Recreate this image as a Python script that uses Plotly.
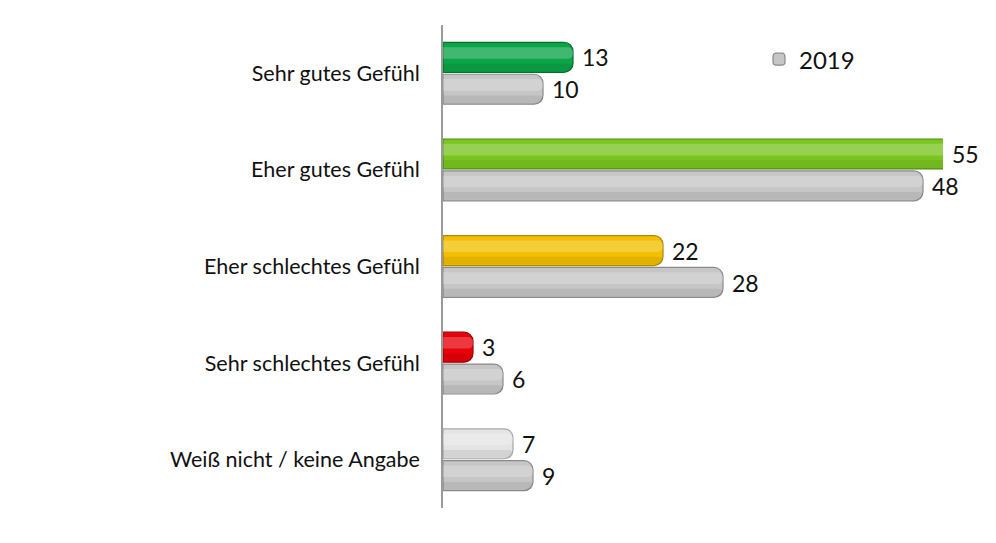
import plotly.graph_objects as go

kategorien = ['Sehr gutes Gefühl', 'Eher gutes Gefühl', 'Eher schlechtes Gefühl',
              'Sehr schlechtes Gefühl', 'Weiß nicht / keine Angabe']
aktuell = [13, 55, 22, 3, 7]
werte_2019 = [10, 48, 28, 6, 9]

farben = ['#0ba447', '#7ac520', '#f3bf00', '#e8000a', '#e4e4e4']
rand = ['#06702f', '#4f8a10', '#b08500', '#a00006', '#a8a8a8']
grau_2019 = '#c6c6c6'

x_max = 50
schrift = 'Lato'
bar_h = 0.31

fig = go.Figure()
fig.add_trace(go.Bar(
    y=kategorien, x=aktuell, orientation='h', name='Aktuell', showlegend=False,
    offset=-0.32, width=bar_h,
    marker=dict(color=farben, line=dict(color=rand, width=1.2), cornerradius=9),
))
fig.add_trace(go.Bar(
    y=kategorien, x=werte_2019, orientation='h', name='2019',
    offset=0.01, width=bar_h,
    marker=dict(color=grau_2019, line=dict(color='#8a8a8a', width=1.2), cornerradius=9),
))
# Glanz oben, Schatten unten fuer den 3D-Eindruck
for werte, off in ((aktuell, -0.32), (werte_2019, 0.01)):
    fig.add_trace(go.Bar(
        y=kategorien, x=werte, orientation='h', showlegend=False, hoverinfo='skip',
        offset=off + 0.05, width=0.12,
        marker=dict(color='rgba(255,255,255,0.22)', line=dict(width=0), cornerradius=5),
    ))
    fig.add_trace(go.Bar(
        y=kategorien, x=werte, orientation='h', showlegend=False, hoverinfo='skip',
        offset=off + 0.22, width=0.08,
        marker=dict(color='rgba(0,0,0,0.07)', line=dict(width=0), cornerradius=5),
    ))

# Wertelabels rechts neben den Balken
for kat, a, b in zip(kategorien, aktuell, werte_2019):
    for wert, shift in ((a, 16), (b, -16)):
        fig.add_annotation(x=min(wert, x_max), y=kat, text=str(wert), showarrow=False,
                           xanchor='left', xshift=7, yshift=shift,
                           font=dict(family=schrift, size=23, color='#111111'))

fig.update_layout(
    width=988, height=535,
    margin=dict(l=435, r=53, t=17, b=35),
    barmode='overlay',
    plot_bgcolor='white', paper_bgcolor='white',
    font=dict(family=schrift, color='#111111'),
    legend=dict(x=0.632, y=0.975, xanchor='left', yanchor='top',
                font=dict(family=schrift, size=24), bgcolor='rgba(0,0,0,0)'),
    xaxis=dict(range=[0, x_max], visible=False),
    yaxis=dict(autorange='reversed', showline=True, linecolor='#9a9a9a', linewidth=1.5,
               ticks='', ticklabelstandoff=17, showgrid=False,
               tickfont=dict(family=schrift, size=21.5, color='#111111')),
)

fig.write_html("out.html")
